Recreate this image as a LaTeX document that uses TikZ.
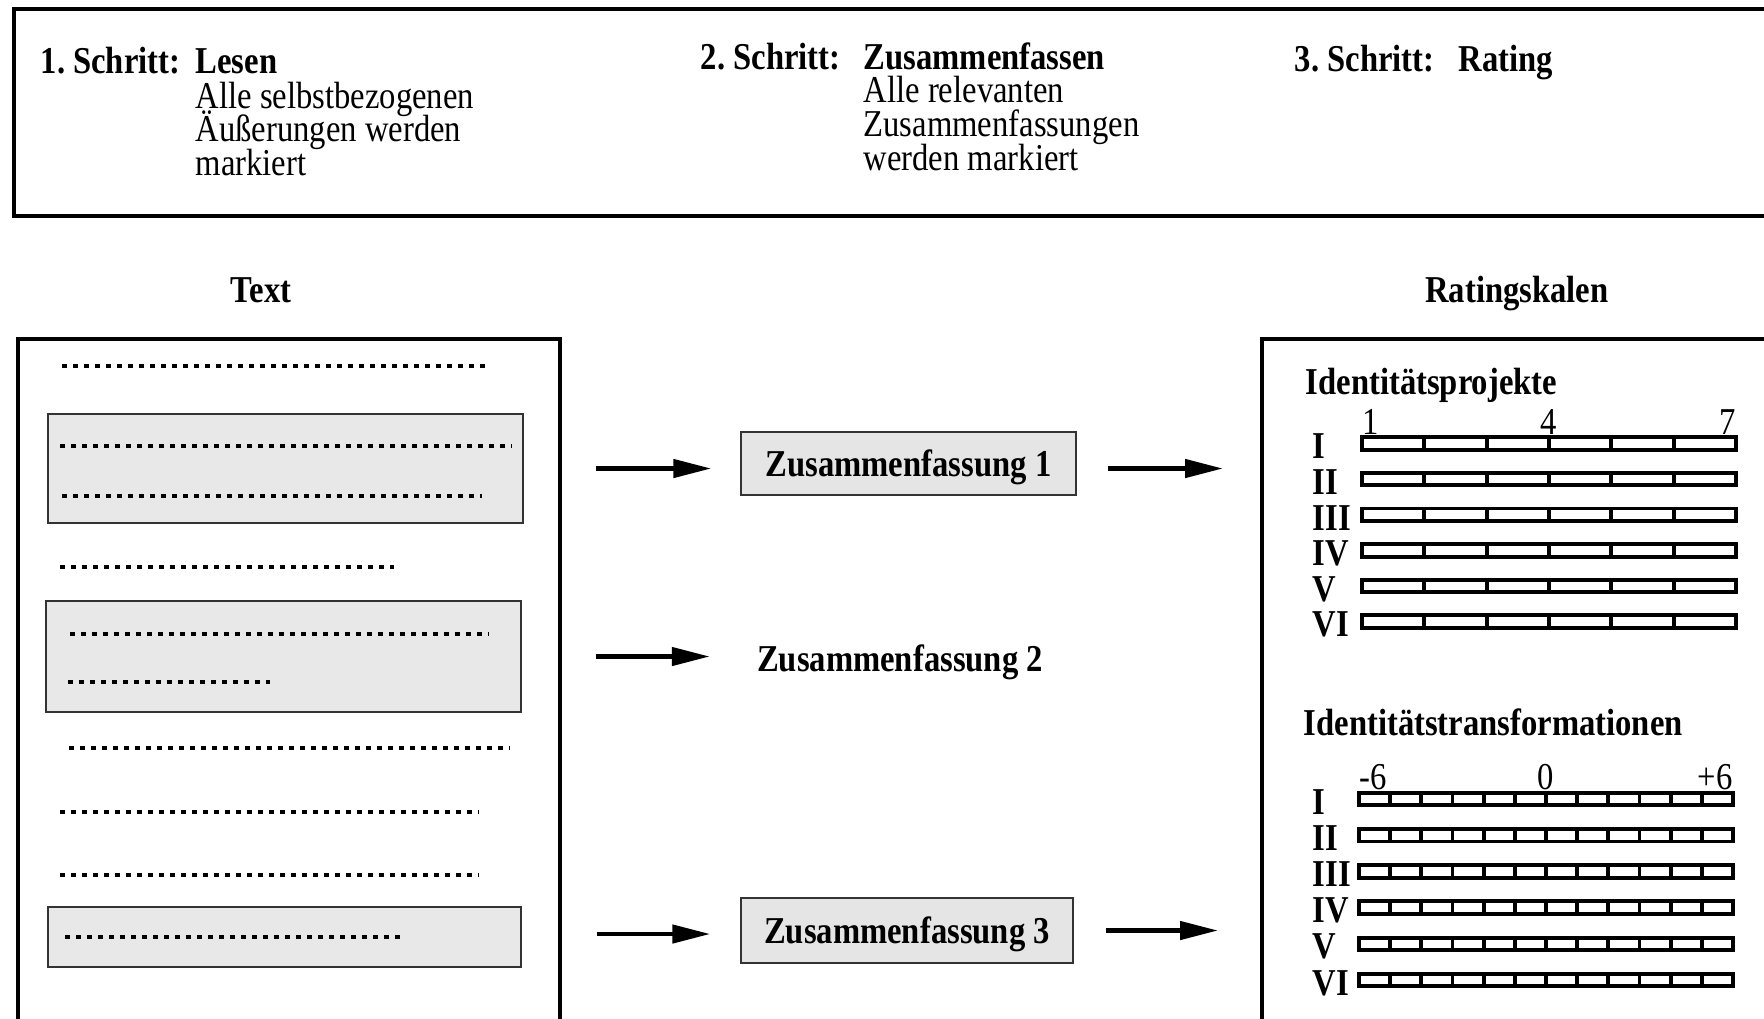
\documentclass[tikz,border=0pt]{standalone}
\usepackage{fontspec}
\setmainfont{Liberation Serif}[FakeStretch=0.86]
\usetikzlibrary{positioning, calc, arrows.meta}

\begin{document}
\begin{tikzpicture}[
    x=1cm, y=1cm,
    txt/.style={font=\fontsize{10.8}{9.5}\selectfont, inner sep=0pt},
    bold/.style={font=\fontsize{10.8}{9.5}\selectfont\bfseries, inner sep=0pt},
    frame/.style={rectangle, draw=black, line width=1pt, inner sep=0pt},
    marked/.style={rectangle, draw=black!80, fill=black!9, line width=0.4pt, inner sep=0pt},
    summary/.style={rectangle, draw=black!80, fill=black!10, line width=0.4pt, minimum width=3.35cm, minimum height=0.63cm, inner sep=0pt, text depth=0pt, font=\fontsize{10.8}{9.5}\selectfont\bfseries},
    textline/.style={line width=0.048cm, dash pattern=on 0.048cm off 0.062cm},
    scalebar/.style={draw=black, line width=1.1pt, fill=white},
    arrow/.style={-{Triangle[length=3.8mm,width=1.8mm]}, line width=1.3pt}
]
\clip (0,0) rectangle (17.64,-10.18);

% Schritte
\node[frame, anchor=north west, minimum width=17.8cm, minimum height=2.07cm] (steps) at (0.12,-0.07) {};
\node[bold, anchor=base west] (s1) at (0.40,-0.73) {1.\ Schritt:};
\node[bold, anchor=base west] (s1name) at (1.95,-0.73) {Lesen};
\node[txt, anchor=base west] (s1a) at (1.95,-1.08) {Alle selbstbezogenen};
\node[txt, anchor=base west] (s1b) at (1.95,-1.415) {Äußerungen werden};
\node[txt, anchor=base west] (s1c) at (1.95,-1.755) {markiert};

\node[bold, anchor=base west] (s2) at (7.00,-0.69) {2.\ Schritt:};
\node[bold, anchor=base west] (s2name) at (8.63,-0.69) {Zusammenfassen};
\node[txt, anchor=base west] (s2a) at (8.63,-1.025) {Alle relevanten};
\node[txt, anchor=base west] (s2b) at (8.63,-1.365) {Zusammenfassungen};
\node[txt, anchor=base west] (s2c) at (8.63,-1.705) {werden markiert};

\node[bold, anchor=base west] (s3) at (12.94,-0.71) {3.\ Schritt:};
\node[bold, anchor=base west] (s3name) at (14.58,-0.71) {Rating};

% Text
\node[bold, anchor=base] (texttitle) at (2.61,-3.02) {Text};
\node[frame, anchor=north west, minimum width=5.42cm, minimum height=7.2cm] (textbox) at (0.16,-3.37) {};
\node[marked, minimum width=4.75cm, minimum height=1.09cm] (mark1) at (2.855,-4.685) {};
\node[marked, minimum width=4.75cm, minimum height=1.11cm] (mark2) at (2.835,-6.565) {};
\node[marked, minimum width=4.73cm, minimum height=0.60cm] (mark3) at (2.845,-9.37) {};
\foreach \y/\a/\b in {3.66/0.62/4.89, 4.46/0.60/5.12, 4.96/0.62/4.82, 5.67/0.60/3.94, 6.34/0.70/4.89,
                      6.82/0.68/2.70, 7.48/0.69/5.10, 8.12/0.60/4.79, 8.75/0.60/4.79, 9.37/0.65/4.05}
  \draw[textline] (\a,-\y) -- (\b,-\y);

% Zusammenfassungen
\node[summary] (sum1) at (9.085,-4.635) {Zusammenfassung 1};
\node[summary, draw=none, fill=none] (sum2) at (9.00,-6.58) {Zusammenfassung 2};
\node[summary, minimum width=3.32cm, minimum height=0.65cm] (sum3) at (9.07,-9.305) {Zusammenfassung 3};

% Ratingskalen
\node[bold, anchor=base] (ratetitle) at (15.17,-3.02) {Ratingskalen};
\node[frame, anchor=north west, minimum width=5.3cm, minimum height=7.2cm] (rate) at (12.60,-3.37) {};

\node[bold, anchor=base west] (proj) at (13.05,-3.94) {Identitätsprojekte};
\node[txt, anchor=base west] (proj-lo) at (13.62,-4.34) {1};
\node[txt, anchor=base] (proj-mid) at (15.49,-4.34) {4};
\node[txt, anchor=base east] (proj-hi) at (17.36,-4.34) {7};
\foreach \r [count=\i] in {I,II,III,IV,V,VI} {
  \pgfmathsetmacro\yy{-4.435-0.356*(\i-1)}
  \node[bold, anchor=west] (proj\i) at (13.12,\yy-0.03) {\r};
  \draw[scalebar] (13.62,\yy-0.0625) rectangle (17.36,\yy+0.0625);
  \foreach \k in {1,...,5}
    \draw[line width=1.1pt] ({13.62+\k*3.74/6},\yy-0.0625) -- ++(0,0.125);
}

\node[bold, anchor=base west] (trans) at (13.03,-7.35) {Identitätstransformationen};
\node[txt, anchor=base west] (trans-lo) at (13.59,-7.89) {-6};
\node[txt, anchor=base] (trans-mid) at (15.46,-7.89) {0};
\node[txt, anchor=base east] (trans-hi) at (17.33,-7.89) {+6};
\foreach \r [count=\i] in {I,II,III,IV,V,VI} {
  \pgfmathsetmacro\yy{-7.99-0.362*(\i-1)}
  \node[bold, anchor=west] (trans\i) at (13.12,\yy-0.03) {\r};
  \draw[scalebar] (13.59,\yy-0.0625) rectangle (17.33,\yy+0.0625);
  \foreach \k in {1,...,11}
    \draw[line width=1.1pt] ({13.59+\k*3.74/12},\yy-0.0625) -- ++(0,0.125);
}

% Pfeile
\draw[arrow, shorten <=0.72cm, shorten >=0.29cm] (mark1.east) -- (mark1.east -| sum1.west);
\draw[arrow, shorten <=0.74cm, shorten >=0.22cm] (mark2.east) -- (mark2.east -| sum2.west);
\draw[arrow, shorten <=0.75cm, shorten >=0.30cm] ([yshift=0.03cm]mark3.east) -- ([yshift=0.03cm]mark3.east -| sum3.west);
\draw[arrow, shorten <=0.31cm, shorten >=0.37cm] ([yshift=-0.05cm]sum1.east) -- ([yshift=-0.05cm]sum1.east -| rate.west);
\draw[arrow, shorten <=0.32cm, shorten >=0.42cm] (sum3.east) -- (sum3.east -| rate.west);

\end{tikzpicture}
\end{document}
